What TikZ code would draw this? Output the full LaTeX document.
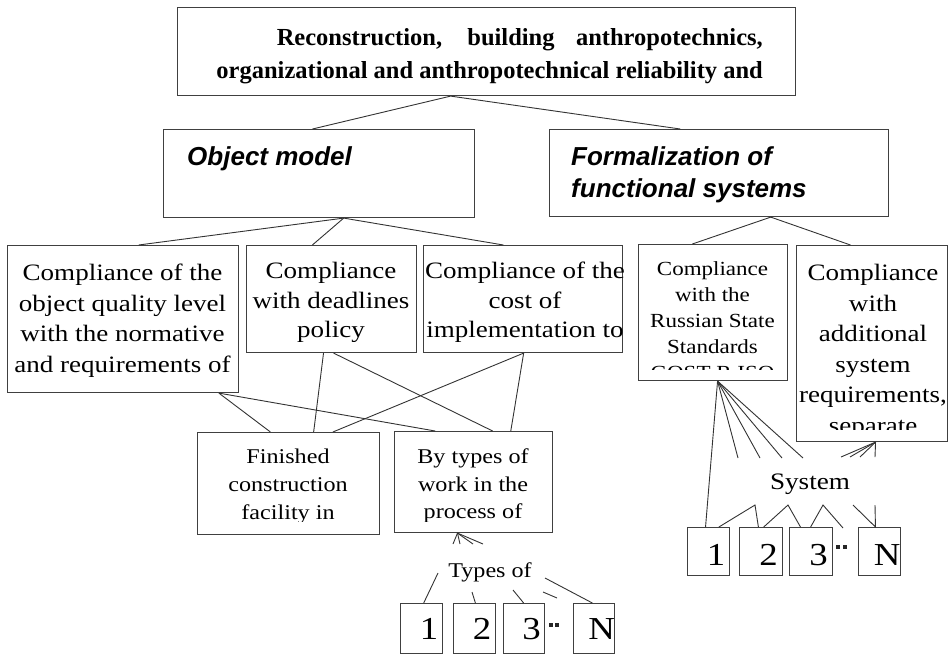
\documentclass[tikz,border=0pt]{standalone}
\usepackage{fontspec}
\setmainfont{Liberation Serif}[FakeStretch=1.15]
\newfontfamily\headfont{Liberation Serif}
\newfontfamily\modelfont{Liberation Sans}
\usetikzlibrary{calc}

\tikzset{
  frame/.style={draw=black!75, line width=1.1pt, anchor=north west, inner sep=0pt},
  wire/.style={draw=black!80, line width=0.9pt},
  boxtxt/.style={inner sep=0pt, align=center, anchor=north},
  numtxt/.style={inner sep=0pt, font=\fontsize{32}{32}\selectfont},
  dotmark/.style={fill=black!85, inner sep=0pt, minimum size=4pt},
}

% text of a frame, cut off at the frame sides and at a given depth
\newcommand{\boxtext}[6]{%
  \begin{scope}
    \clip (#1.north west) rectangle (#1.east |- 0,#2);
    \node[boxtxt, #4] (#3) at #5 {#6};
  \end{scope}}

\begin{document}
\begin{tikzpicture}[x=1pt, y=-1pt]

    \useasboundingbox (0,0) rectangle (949,654);

    % Frames
    \node[frame, minimum width=618pt, minimum height=88pt] (top) at (177,7) {};
    \node[frame, minimum width=311pt, minimum height=88pt] (objm) at (163,129) {};
    \node[frame, minimum width=339pt, minimum height=87pt] (form) at (549,129) {};
    \node[frame, minimum width=231pt, minimum height=147pt] (qual) at (7,245) {};
    \node[frame, minimum width=170pt, minimum height=107pt] (dead) at (246,245) {};
    \node[frame, minimum width=199pt, minimum height=107pt] (cost) at (423,245) {};
    \node[frame, minimum width=149pt, minimum height=136pt] (gost) at (638,244) {};
    \node[frame, minimum width=151pt, minimum height=196pt] (addreq) at (796,245) {};
    \node[frame, minimum width=182pt, minimum height=102pt] (fin) at (197,432) {};
    \node[frame, minimum width=158pt, minimum height=101pt] (bytype) at (394,431) {};

    % Numbered boxes under "Types of" and under "System"
    \foreach \x/\w/\n in {400/42/1, 453/42/2, 503/41/3, 573/41/N} {
        \node[frame, minimum width=\w pt, minimum height=50pt] (work\n) at (\x,603) {};
        \node[numtxt] (worknum\n) at ([xshift=7.5pt]work\n.center) {\n};
    }
    \foreach \x/\w/\n in {687/42/1, 739/43/2, 789/43/3, 858/42/N} {
        \node[frame, minimum width=\w pt, minimum height=48pt] (sys\n) at (\x,527) {};
        \node[numtxt] (sysnum\n) at ([xshift=7.5pt, yshift=-3pt]sys\n.center) {\n};
    }
    \node[dotmark] (wdot1) at (551,625) {};
    \node[dotmark] (wdot2) at (557,625) {};
    \node[dotmark] (sdot1) at (838,547) {};
    \node[dotmark] (sdot2) at (845,547) {};

    % Texts
    \node[inner sep=0pt, anchor=north east, align=right,
          font=\headfont\bfseries\fontsize{24.5}{33}\selectfont] (toptxt) at (763,28.5)
        {\makebox[486pt][s]{Reconstruction, building anthropotechnics,}\\
         organizational and anthropotechnical reliability and};
    \node[inner sep=0pt, anchor=north west,
          font=\modelfont\bfseries\itshape\fontsize{26}{32}\selectfont] (objtxt) at (187,146)
        {Object model};
    \node[inner sep=0pt, anchor=north west, align=left,
          font=\modelfont\bfseries\itshape\fontsize{26}{32}\selectfont] (formtxt) at (571,146)
        {Formalization of\\functional systems};

    \boxtext{qual}{392}{qualtxt}{font=\fontsize{23.5}{30.5}\selectfont}{(122.5,264)}
        {Compliance of the\\object quality level\\with the normative\\and requirements of}
    \boxtext{dead}{341}{deadtxt}{font=\fontsize{23.5}{29.5}\selectfont}{(331,262)}
        {Compliance\\with deadlines\\policy}
    \boxtext{cost}{341}{costtxt}{font=\fontsize{23.5}{29.5}\selectfont}{(525,262)}
        {Compliance of the\\cost of\\implementation to}
    \boxtext{gost}{369}{gosttxt}{font=\fontsize{20}{26}\selectfont}{(712.5,261)}
        {Compliance\\with the\\Russian State\\Standards\\GOST R ISO}
    \boxtext{addreq}{429}{addreqtxt}{font=\fontsize{23.5}{30.5}\selectfont}{(873,264)}
        {Compliance\\with\\additional\\system\\requirements,\\separate}
    \boxtext{fin}{521}{fintxt}{font=\fontsize{21}{28}\selectfont}{(288,449)}
        {Finished\\construction\\facility in}
    \boxtext{bytype}{521}{bytypetxt}{font=\fontsize{21}{27.5}\selectfont}{(473,449)}
        {By types of\\work in the\\process of}

    \node[inner sep=0pt, font=\fontsize{21}{21}\selectfont] (typestxt) at (490,572) {Types of};
    \node[inner sep=0pt, font=\fontsize{23.6}{24}\selectfont] (systxt) at (810,484) {System};

    % Top level
    \coordinate (topapex) at ($(top.south west)!0.442!(top.south east)$);
    \draw[wire] (topapex) -- ($(objm.north west)!0.479!(objm.north east)$);
    \draw[wire] (topapex) -- ($(form.north west)!0.386!(form.north east)$);

    % Object model
    \coordinate (objapex) at ($(objm.south west)!0.579!(objm.south east)$);
    \draw[wire] (objapex) -- ($(qual.north west)!0.567!(qual.north east)$);
    \draw[wire] (objapex) -- ($(dead.north west)!0.388!(dead.north east)$);
    \draw[wire] (objapex) -- ($(cost.north west)!0.402!(cost.north east)$);

    % Formalization of functional systems
    \coordinate (formapex) at ($(form.south west)!0.652!(form.south east)$);
    \draw[wire] (formapex) -- ($(gost.north west)!0.362!(gost.north east)$);
    \draw[wire] (formapex) -- ($(addreq.north west)!0.358!(addreq.north east)$);

    % Criteria -> finished facility / types of work
    \coordinate (qualfoot) at ($(qual.south west)!0.913!(qual.south east)$);
    \draw[wire] (qualfoot) -- ($(fin.north west)!0.401!(fin.north east)$);
    \draw[wire] (qualfoot) -- ($(bytype.north west)!0.259!(bytype.north east)$);
    \draw[wire] ($(dead.south west)!0.453!(dead.south east)$) -- ($(fin.north west)!0.637!(fin.north east)$);
    \draw[wire] ($(dead.south west)!0.512!(dead.south east)$) -- ($(bytype.north west)!0.620!(bytype.north east)$);
    \coordinate (costfoot) at ($(cost.south west)!0.503!(cost.south east)$);
    \draw[wire] (costfoot) -- ($(fin.north west)!0.742!(fin.north east)$);
    \draw[wire] (costfoot) -- ($(bytype.north west)!0.734!(bytype.north east)$);

    % Types of work
    \coordinate (typeapex) at ($(bytype.south west)!0.399!(bytype.south east)$);
    \foreach \x [count=\i] in {453,460,473,483} {
        \coordinate (tstub\i) at (\x,544);
        \draw[wire] (typeapex) -- (tstub\i);
    }
    \coordinate (tend1) at (438,573);
    \coordinate (tend2) at (472,592);
    \coordinate (tend3) at (513,590);
    \coordinate (tendN) at (545,578);
    \coordinate (tdotA) at (543,592);
    \coordinate (tdotB) at (557,598);
    \draw[wire] ($(work1.north west)!0.55!(work1.north east)$) -- (tend1);
    \draw[wire] ($(work2.north west)!0.52!(work2.north east)$) -- (tend2);
    \draw[wire] ($(work3.north west)!0.49!(work3.north east)$) -- (tend3);
    \draw[wire] ($(workN.north west)!0.46!(workN.north east)$) -- (tendN);
    \draw[wire] (tdotA) -- (tdotB);

    % System
    \coordinate (gostapex) at ($(gost.south west)!0.53!(gost.south east)$);
    \draw[wire] (gostapex) -- ($(sys1.north west)!0.43!(sys1.north east)$);
    \foreach \x [count=\i] in {738,760,782,803} {
        \coordinate (gstub\i) at (\x,458);
        \draw[wire] (gostapex) -- (gstub\i);
    }
    \coordinate (addapex) at ($(addreq.south west)!0.523!(addreq.south east)$);
    \foreach \x [count=\i] in {841,850,860,875} {
        \coordinate (astub\i) at (\x,457);
        \draw[wire] (addapex) -- (astub\i);
    }
    \coordinate (peak1) at (755,505);
    \coordinate (peak2) at (788,505);
    \coordinate (peak3) at (823,505);
    \coordinate (peak4) at (853,505);
    \coordinate (peak5) at (875,505);
    \coordinate (sdotend) at (843,528);
    \draw[wire] ($(sys1.north west)!0.74!(sys1.north east)$) -- (peak1) -- ($(sys2.north west)!0.44!(sys2.north east)$);
    \draw[wire] ($(sys2.north west)!0.56!(sys2.north east)$) -- (peak2) -- ($(sys3.north west)!0.26!(sys3.north east)$);
    \draw[wire] ($(sys3.north west)!0.49!(sys3.north east)$) -- (peak3) -- (sdotend);
    \draw[wire] (peak4) -- ($(sysN.north west)!0.405!(sysN.north east)$) -- (peak5);

\end{tikzpicture}
\end{document}
